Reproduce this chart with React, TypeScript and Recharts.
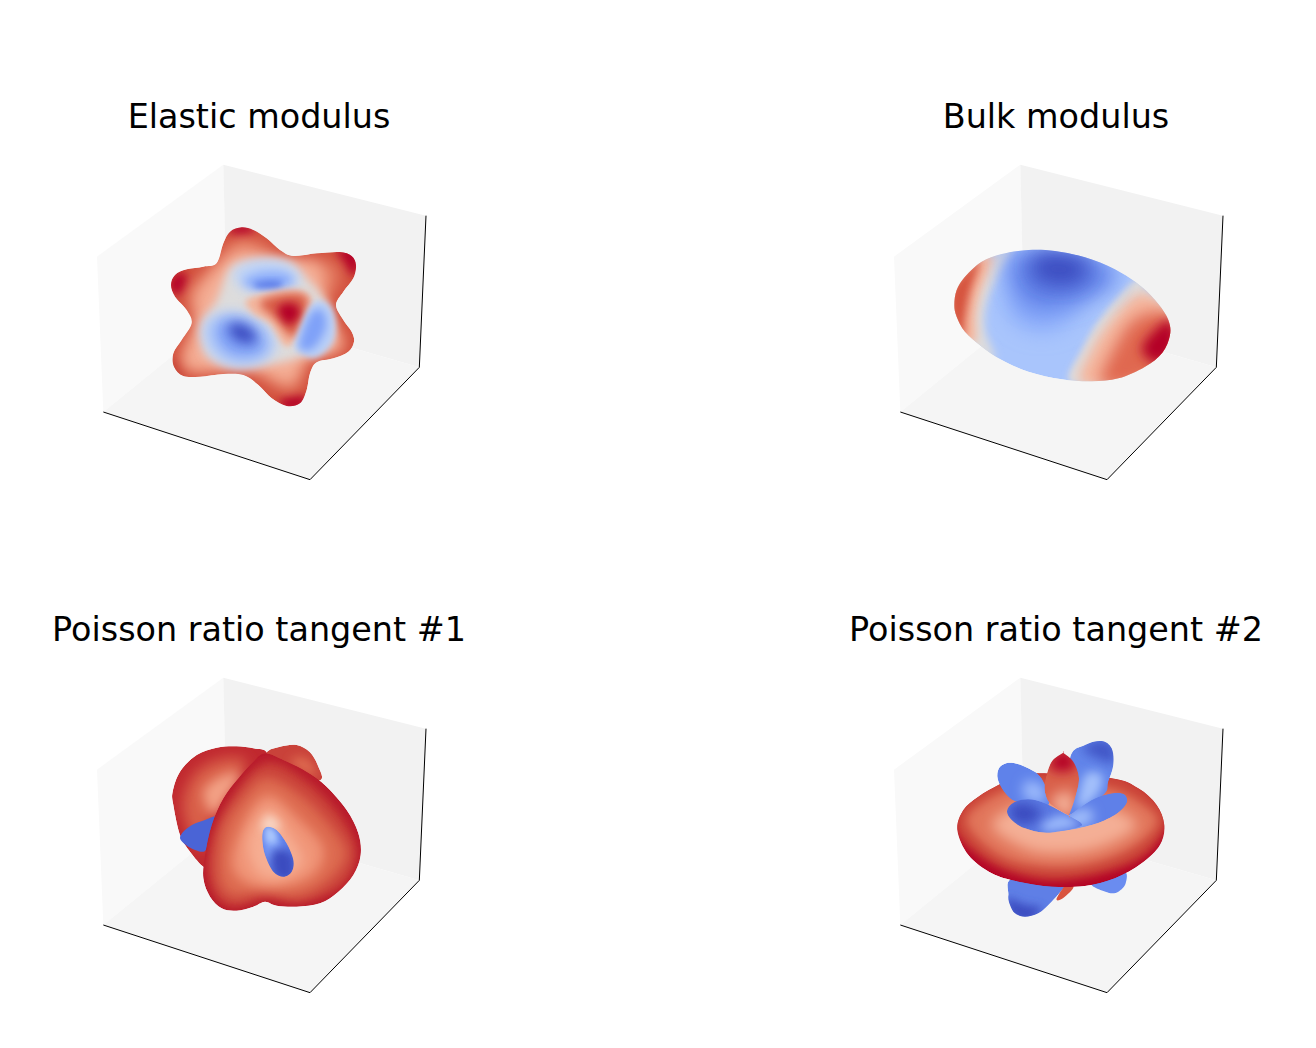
import React from "react";
import { ScatterChart, Scatter, XAxis, YAxis } from "recharts";

type Pts = number[][];

const titles = ["Elastic modulus", "Bulk modulus", "Poisson ratio tangent #1", "Poisson ratio tangent #2"];

const leftWall: Pts = [[21, 320], [400, 44], [410, 485], [40, 786]];
const rightWall: Pts = [[400, 44], [1008, 197], [988, 652], [410, 485]];
const floorPane: Pts = [[40, 786], [410, 485], [988, 652], [660, 989]];
const axisFront: Pts = [[40, 786], [660, 989], [988, 652], [1008, 197]];

const elasticOutline: Pts = [[455, 232], [490, 240], [530, 265], [570, 300], [610, 318], [680, 310], [750, 306], [785, 318], [798, 345], [790, 385], [760, 425], [738, 465], [760, 510], [785, 545], [792, 575], [775, 605], [730, 625], [680, 637], [660, 670], [650, 720], [630, 760], [590, 768], [545, 745], [505, 705], [460, 675], [400, 672], [330, 680], [280, 678], [252, 650], [250, 610], [275, 570], [305, 520], [290, 480], [255, 440], [243, 405], [255, 375], [290, 358], [340, 350], [380, 340], [400, 280], [420, 245]];
const elasticTipTop: Pts = [[430, 225], [480, 225], [490, 250], [445, 258], [420, 250]];
const elasticTipLeft: Pts = [[235, 405], [260, 370], [290, 375], [290, 410], [270, 435], [250, 430]];
const elasticTipRight: Pts = [[740, 300], [800, 300], [805, 360], [785, 375], [760, 335]];
const elasticTipBottom: Pts = [[570, 750], [620, 735], [650, 745], [630, 775], [585, 775]];
const elasticTipLower: Pts = [[245, 630], [270, 630], [285, 665], [270, 685], [245, 665]];
const elasticMidRing: Pts = [[395, 310], [450, 265], [520, 285], [600, 345], [720, 335], [750, 390], [710, 470], [765, 590], [660, 625], [620, 720], [560, 710], [470, 660], [300, 665], [275, 610], [315, 520], [290, 430], [340, 375]];
const elasticSalmon: Pts = [[400, 335], [460, 300], [560, 325], [690, 345], [700, 470], [755, 590], [650, 625], [600, 700], [480, 655], [290, 650], [320, 520], [320, 430]];
const elasticGrey: Pts = [[420, 355], [490, 330], [590, 334], [645, 380], [695, 435], [730, 515], [715, 585], [640, 618], [560, 640], [440, 650], [360, 625], [335, 575], [338, 515], [380, 450]];
const topBlueLight: Pts = [[430, 370], [485, 335], [570, 335], [625, 370], [620, 405], [560, 420], [470, 420]];
const topBlueMid: Pts = [[460, 393], [515, 368], [585, 370], [610, 395], [570, 412], [490, 414]];
const topBlueDeep: Pts = [[490, 403], [530, 393], [575, 396], [565, 412], [510, 414]];
const leftBlueLight: Pts = [[345, 515], [405, 485], [475, 495], [540, 535], [558, 590], [520, 635], [440, 652], [375, 625], [340, 570]];
const leftBlueMid: Pts = [[375, 530], [425, 505], [480, 520], [525, 570], [515, 610], [450, 622], [395, 595]];
const leftBlueDeep: Pts = [[415, 530], [455, 522], [498, 555], [485, 578], [440, 570]];
const wedgeLight: Pts = [[470, 450], [560, 425], [640, 425], [665, 465], [630, 540], [590, 590], [540, 520], [490, 490]];
const wedgeMid: Pts = [[510, 460], [570, 435], [640, 435], [650, 470], [610, 560], [560, 510]];
const wedgeDeep: Pts = [[565, 470], [610, 460], [630, 490], [600, 525], [575, 505]];
const rightBlueLight: Pts = [[660, 470], [700, 455], [730, 490], [730, 570], [680, 622], [630, 605], [618, 580]];
const rightBlueMid: Pts = [[660, 495], [695, 480], [708, 530], [670, 595], [628, 590]];

const bulkOutline: Pts = [[208, 465], [215, 420], [240, 380], [290, 335], [350, 312], [430, 300], [510, 303], [600, 322], [690, 358], [770, 410], [820, 462], [850, 510], [855, 555], [832, 608], [780, 650], [700, 685], [620, 694], [530, 688], [430, 665], [350, 630], [290, 590], [240, 545], [215, 500]];
const bulkRightGrey: Pts = [[555, 695], [590, 600], [650, 500], [750, 390], [790, 425], [860, 500], [860, 600], [790, 660], [700, 695]];
const bulkRightSalmon: Pts = [[590, 700], [620, 600], [680, 510], [770, 430], [860, 500], [860, 620], [760, 690]];
const bulkRightMid: Pts = [[650, 705], [690, 590], [760, 500], [870, 500], [870, 640], [780, 690]];
const bulkRightDeep: Pts = [[770, 600], [810, 540], [860, 510], [870, 590], [820, 640]];
const bulkLeftGrey: Pts = [[195, 400], [300, 335], [390, 290], [340, 380], [305, 460], [300, 540], [330, 630], [250, 590], [195, 550]];
const bulkLeftSalmon: Pts = [[195, 420], [270, 335], [325, 318], [285, 430], [272, 500], [270, 575], [220, 565], [195, 510]];
const bulkLeftRed: Pts = [[195, 430], [240, 365], [285, 330], [255, 430], [240, 510], [235, 565], [205, 530]];
const bulkBlueMid: Pts = [[370, 320], [450, 295], [600, 315], [710, 375], [620, 440], [540, 520], [450, 540], [370, 480]];
const bulkBlueStrong: Pts = [[400, 320], [600, 320], [680, 380], [580, 450], [450, 470], [390, 400]];
const bulkBlueDeep: Pts = [[450, 320], [510, 310], [600, 330], [600, 380], [550, 405], [470, 395], [440, 360]];

const backLobe: Pts = [[530, 262], [570, 245], [620, 240], [660, 262], [685, 305], [692, 345], [620, 350], [520, 310]];
const backLobeLight: Pts = [[600, 285], [650, 280], [680, 330], [640, 320]];
const sideLobe: Pts = [[250, 420], [248, 380], [270, 320], [320, 270], [380, 248], [440, 244], [490, 250], [530, 262], [520, 320], [420, 420], [375, 520], [350, 590], [340, 605], [300, 560], [270, 510]];
const sideLobeMid: Pts = [[280, 400], [320, 320], [400, 280], [470, 290], [420, 380], [360, 470], [340, 560], [290, 480]];
const sideLobeLight: Pts = [[340, 380], [400, 330], [450, 330], [400, 410], [370, 450]];
const blueDisc: Pts = [[270, 520], [282, 498], [310, 478], [345, 465], [378, 458], [360, 520], [345, 558], [315, 555], [288, 540]];
const frontLobe: Pts = [[525, 265], [580, 285], [650, 320], [710, 365], [770, 435], [805, 505], [812, 570], [790, 630], [745, 680], [690, 715], [620, 725], [560, 722], [525, 710], [490, 725], [440, 737], [395, 730], [360, 695], [340, 640], [345, 570], [365, 480], [400, 400], [445, 340], [490, 290]];
const frontBandA: Pts = [[520, 295], [640, 340], [750, 450], [800, 560], [760, 660], [640, 712], [530, 700], [430, 725], [370, 680], [355, 570], [405, 430]];
const frontBandB: Pts = [[530, 335], [640, 395], [730, 490], [770, 570], [715, 650], [620, 695], [520, 680], [430, 695], [385, 640], [395, 500], [455, 400]];
const frontBandC: Pts = [[535, 390], [625, 460], [700, 550], [670, 630], [570, 665], [470, 655], [425, 590], [465, 465]];
const frontBandD: Pts = [[535, 435], [600, 510], [640, 590], [570, 640], [500, 620], [475, 530]];
const frontBandE: Pts = [[535, 450], [570, 480], [550, 500], [515, 490]];
const blueLobe: Pts = [[535, 485], [560, 495], [590, 535], [610, 585], [605, 620], [580, 635], [550, 620], [525, 570], [517, 525], [520, 495]];
const blueLobeDeep: Pts = [[560, 550], [610, 570], [610, 640], [560, 640], [540, 590]];
const blueLobeMid: Pts = [[530, 510], [570, 530], [590, 600], [550, 610], [525, 560]];
const blueLobeLight: Pts = [[525, 485], [555, 495], [560, 530], [530, 530]];

const lowerPetalLeft: Pts = [[370, 690], [385, 640], [540, 650], [535, 670], [500, 710], [460, 745], [420, 755], [390, 745], [375, 720]];
const lowerPetalDeep: Pts = [[365, 700], [420, 720], [470, 730], [430, 770], [380, 750]];
const lowerPetalRight: Pts = [[620, 655], [715, 620], [722, 655], [700, 680], [670, 683]];
const lowerRed: Pts = [[515, 700], [530, 702], [565, 668], [550, 650]];
const torus: Pts = [[217, 495], [235, 435], [280, 395], [340, 360], [400, 335], [470, 325], [680, 340], [760, 370], [815, 420], [838, 480], [825, 540], [770, 595], [690, 640], [600, 663], [500, 665], [400, 650], [320, 625], [250, 570]];
const torusBandA: Pts = [[205, 470], [270, 375], [400, 315], [680, 320], [815, 395], [850, 470], [780, 570], [650, 625], [500, 645], [360, 615], [255, 550]];
const torusBandB: Pts = [[245, 470], [320, 395], [440, 360], [660, 365], [785, 425], [815, 480], [730, 555], [600, 600], [470, 605], [340, 570]];
const torusBandC: Pts = [[320, 480], [420, 420], [640, 420], [755, 475], [680, 535], [560, 565], [430, 555]];
const backPetalRight: Pts = [[555, 280], [600, 240], [650, 228], [680, 250], [685, 300], [670, 350], [655, 390], [552, 452], [552, 452]];
const backPetalRightDeep: Pts = [[590, 250], [650, 225], [690, 250], [685, 295], [640, 280]];
const backPetalRightLight: Pts = [[600, 330], [650, 330], [640, 385], [580, 430]];
const backPetalLeft: Pts = [[337, 335], [345, 305], [375, 293], [420, 305], [470, 340], [490, 420], [400, 410], [375, 400], [350, 370]];
const backPetalLeftLight: Pts = [[420, 350], [470, 360], [480, 410], [420, 400]];
const frontPetalLeft: Pts = [[366, 438], [385, 413], [430, 403], [480, 415], [552, 452], [552, 452], [590, 482], [490, 503], [420, 490], [380, 465]];
const frontPetalLeftDeep: Pts = [[370, 440], [395, 415], [440, 420], [470, 450], [420, 480], [385, 465]];
const frontPetalLeftLight: Pts = [[530, 450], [580, 480], [490, 500], [470, 480]];
const frontPetalRight: Pts = [[552, 452], [552, 452], [620, 405], [680, 385], [718, 388], [725, 415], [690, 450], [620, 480], [530, 495]];
const frontPetalRightLight: Pts = [[550, 450], [610, 430], [620, 470], [540, 490]];
const midPetal: Pts = [[480, 350], [500, 290], [535, 263], [535, 263], [565, 290], [582, 340], [570, 400], [552, 452], [552, 452], [500, 420], [482, 390]];
const midPetalDeep: Pts = [[490, 300], [535, 255], [575, 300], [530, 320]];
const midPetalLight: Pts = [[500, 400], [560, 380], [560, 460], [510, 430]];

// paint order: points, colour, blur (px), clip
type Paint = [Pts, string, number, string?];

const elasticPaint: Paint[] = [
  [elasticOutline, "#d2503e", 0, "elastic"],
  [elasticTipTop, "#b40426", 5, "elastic"],
  [elasticTipLeft, "#b40426", 5, "elastic"],
  [elasticTipRight, "#b40426", 5, "elastic"],
  [elasticTipBottom, "#b40426", 4, "elastic"],
  [elasticTipLower, "#c43c32", 4, "elastic"],
  [elasticMidRing, "#e57f63", 8, "elastic"],
  [elasticSalmon, "#f4ae95", 7, "elastic"],
  [elasticGrey, "#dddcdc", 5, "elastic"],
  [topBlueLight, "#bcd2f8", 6, "elastic"],
  [topBlueMid, "#8aabfa", 5, "elastic"],
  [topBlueDeep, "#5b7ce8", 3, "elastic"],
  [leftBlueLight, "#b8cff8", 6, "elastic"],
  [leftBlueMid, "#7d9ff6", 7, "elastic"],
  [leftBlueDeep, "#3b4cc0", 6, "elastic"],
  [wedgeLight, "#f3b69d", 3, "elastic"],
  [wedgeMid, "#d95f49", 4, "elastic"],
  [wedgeDeep, "#b40426", 4, "elastic"],
  [rightBlueLight, "#b8cff8", 3, "elastic"],
  [rightBlueMid, "#7fa1f8", 4, "elastic"],
];

const bulkPaint: Paint[] = [
  [bulkOutline, "#a9c5fc", 0, "bulk"],
  [bulkRightGrey, "#dddcdc", 3, "bulk"],
  [bulkRightSalmon, "#f5b79f", 6, "bulk"],
  [bulkRightMid, "#e0674f", 8, "bulk"],
  [bulkRightDeep, "#b40426", 6, "bulk"],
  [bulkLeftGrey, "#dddcdc", 4, "bulk"],
  [bulkLeftSalmon, "#f5b79f", 4, "bulk"],
  [bulkLeftRed, "#d6533e", 4, "bulk"],
  [bulkBlueMid, "#86a8fa", 11, "bulk"],
  [bulkBlueStrong, "#5f7fe6", 11, "bulk"],
  [bulkBlueDeep, "#3b4cc0", 10, "bulk"],
];

const poissonOnePaint: Paint[] = [
  [backLobe, "#c9423a", 0, "backLobe"],
  [backLobeLight, "#de6a50", 5, "backLobe"],
  [sideLobe, "#c0282f", 0, "sideLobe"],
  [sideLobeMid, "#d9604a", 7, "sideLobe"],
  [sideLobeLight, "#f3a286", 6, "sideLobe"],
  [blueDisc, "#4a64d6", 0],
  [frontLobe, "#b81a2b", 0, "frontLobe"],
  [frontBandA, "#c93f37", 4, "frontLobe"],
  [frontBandB, "#dd6a50", 6, "frontLobe"],
  [frontBandC, "#f09477", 6, "frontLobe"],
  [frontBandD, "#f6ad92", 6, "frontLobe"],
  [frontBandE, "#f7d5c4", 4, "frontLobe"],
  [blueLobe, "#5f80ea", 0, "blueLobe"],
  [blueLobeMid, "#7d9ff8", 3, "blueLobe"],
  [blueLobeDeep, "#3b4cc0", 5, "blueLobe"],
  [blueLobeLight, "#aac7fd", 3, "blueLobe"],
];

const poissonTwoPaint: Paint[] = [
  [lowerPetalLeft, "#5f7fe6", 0, "lowerLeft"],
  [lowerPetalDeep, "#3b4cc0", 5, "lowerLeft"],
  [lowerPetalRight, "#6a8cf0", 0],
  [lowerRed, "#d9543f", 0],
  [torus, "#b40426", 0, "torus"],
  [torusBandA, "#cb4437", 4, "torus"],
  [torusBandB, "#e1745a", 5, "torus"],
  [torusBandC, "#f4af95", 7, "torus"],
  [backPetalRight, "#6285ea", 0, "backRight"],
  [backPetalRightDeep, "#3f55c6", 6, "backRight"],
  [backPetalRightLight, "#a3c0fb", 5, "backRight"],
  [backPetalLeft, "#5f82ea", 0, "backLeft"],
  [backPetalLeftLight, "#9ab8fb", 6, "backLeft"],
  [frontPetalRight, "#5f80e8", 0, "frontRight"],
  [frontPetalRightLight, "#a3c0fb", 6, "frontRight"],
  [frontPetalLeft, "#5b79e2", 0, "frontLeft"],
  [frontPetalLeftDeep, "#3b4cc0", 6, "frontLeft"],
  [frontPetalLeftLight, "#9ab8fb", 5, "frontLeft"],
  [midPetal, "#d9604a", 0, "midPetal"],
  [midPetalDeep, "#b40426", 6, "midPetal"],
  [midPetalLight, "#f4b49b", 7, "midPetal"],
];

const panels = [
  { left: 90, top: 150, shiftX: 0, shiftY: 0, paint: elasticPaint, key: "a" },
  { left: 885, top: 150, shiftX: 6, shiftY: 0, paint: bulkPaint, key: "b" },
  { left: 90, top: 665, shiftX: 0, shiftY: -6, paint: poissonOnePaint, key: "c" },
  { left: 885, top: 665, shiftX: 6, shiftY: -6, paint: poissonTwoPaint, key: "d" },
];

const blurLevels = [2, 3, 4, 5, 6, 7, 8, 10, 11];

const toRows = (pts: Pts, dx = 0, dy = 0) => pts.map(([x, y]) => ({ x: x + dx, y: y + dy }));

function smoothPath(p: { x: number; y: number }[]) {
  const n = p.length;
  let d = `M${p[0].x},${p[0].y}`;
  for (let i = 0; i < n; i++) {
    const p0 = p[(i - 1 + n) % n];
    const p1 = p[i];
    const p2 = p[(i + 1) % n];
    const p3 = p[(i + 2) % n];
    d += `C${p1.x + (p2.x - p0.x) / 6},${p1.y + (p2.y - p0.y) / 6} ${p2.x - (p3.x - p1.x) / 6},${p2.y - (p3.y - p1.y) / 6} ${p2.x},${p2.y}`;
  }
  return d + "Z";
}

const straightPath = (p: { x: number; y: number }[]) =>
  "M" + p.map((q) => `${q.x},${q.y}`).join("L") + "Z";

const NoDot = () => <g />;

function paneSeries(pts: Pts, fill: string, dx: number, dy: number, name: string) {
  return (
    <Scatter
      key={name}
      data={toRows(pts, dx, dy)}
      shape={NoDot}
      isAnimationActive={false}
      line={(props: any) => <path key={name} d={straightPath(props.points)} fill={fill} stroke="none" />}
    />
  );
}

function paintSeries([pts, fill, blur, clip]: Paint, i: number, panelKey: string) {
  const clipId = clip ? `${panelKey}-${clip}` : undefined;
  return (
    <Scatter
      key={i}
      data={toRows(pts)}
      shape={NoDot}
      isAnimationActive={false}
      line={(props: any) => {
        const d = smoothPath(props.points);
        return (
          <g key={i}>
            {clipId && blur === 0 ? (
              <clipPath id={clipId}>
                <path d={d} />
              </clipPath>
            ) : null}
            <g clipPath={clipId ? `url(#${clipId})` : undefined}>
              <path d={d} fill={fill} stroke="none" filter={blur ? `url(#blur${blur})` : undefined} />
            </g>
          </g>
        );
      }}
    />
  );
}

function Panel({ panel, title }: { panel: (typeof panels)[number]; title: string }) {
  const { shiftX: dx, shiftY: dy } = panel;
  return (
    <div style={{ position: "absolute", left: panel.left, top: panel.top, width: 345, height: 340 }}>
      <ScatterChart width={345} height={340} margin={{ top: 0, right: 0, bottom: 0, left: 0 }}>
        <XAxis type="number" dataKey="x" domain={[0, 1035]} hide />
        <YAxis type="number" dataKey="y" domain={[0, 1020]} reversed hide />
        {paneSeries(leftWall, "#f9f9f9", dx, dy, "leftWall")}
        {paneSeries(rightWall, "#f2f2f2", dx, dy, "rightWall")}
        {paneSeries(floorPane, "#f5f5f5", dx, dy, "floor")}
        <Scatter
          data={toRows(axisFront, dx, dy)}
          shape={NoDot}
          isAnimationActive={false}
          line={{ stroke: "#000", strokeWidth: 1 }}
        />
        {panel.paint.map((layer, i) => paintSeries(layer, i, panel.key))}
      </ScatterChart>
      <div
        style={{
          position: "absolute",
          left: -100 + dx / 3,
          width: 538,
          top: -52 + (dy ? -2 : 0),
          textAlign: "center",
          fontFamily: "DejaVu Sans",
          fontSize: 33.4,
          lineHeight: "38px",
          color: "#000",
          whiteSpace: "nowrap",
        }}
      >
        {title}
      </div>
    </div>
  );
}

export default function App() {
  return (
    <div style={{ position: "absolute", left: 0, top: 0, width: 1316, height: 1048, background: "#fff", overflow: "hidden" }}>
      <svg width={0} height={0} style={{ position: "absolute" }}>
        <defs>
          {blurLevels.map((b) => (
            <filter key={b} id={`blur${b}`} x="-60%" y="-60%" width="220%" height="220%">
              <feGaussianBlur stdDeviation={b} />
            </filter>
          ))}
        </defs>
      </svg>
      {panels.map((p, i) => (
        <Panel key={p.key} panel={p} title={titles[i]} />
      ))}
    </div>
  );
}
